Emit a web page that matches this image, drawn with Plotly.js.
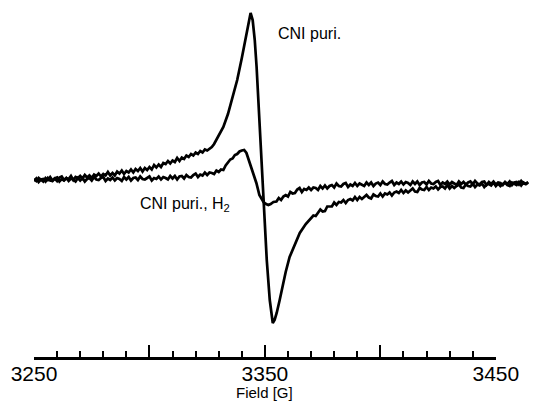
<!DOCTYPE html>
<html>
<head>
<meta charset="utf-8">
<script src="https://cdn.plot.ly/plotly-3.0.1.min.js"></script>
<style>html,body{margin:0;padding:0;background:#fff;}#chart{width:559px;height:416px;}</style>
</head>
<body>
<div id="chart"></div>
<script>
// Field values (G) and signal (arb. units)
var fieldPuri = [3250,3251,3252,3253,3254,3255,3256,3257,3258,3259,3260,3261,3262,3263,3264,3265,3266,3267,3268,3269,3270,3271,3272,3273,3274,3275,3276,3277,3278,3279,3280,3281,3282,3283,3284,3285,3286,3287,3288,3289,3290,3291,3292,3293,3294,3295,3296,3297,3298,3299,3300,3301,3302,3303,3304,3305,3306,3307,3308,3309,3310,3311,3312,3313,3314,3315,3316,3317,3318,3319,3320,3321,3322,3323,3324,3325,3326,3327,3328,3329,3330,3332,3334,3336,3338,3340,3341.5,3342.5,3343.8,3344.7,3345.6,3346.4,3347.3,3347.8,3348.6,3349.0,3349.5,3349.9,3350.8,3352.1,3353.4,3354.2,3355.1,3356.4,3357.3,3359.0,3360.7,3362.9,3365.1,3367.7,3370,3371,3372,3373,3374,3375,3376,3377,3378,3379,3380,3381,3382,3383,3384,3385,3386,3387,3388,3389,3390,3391,3392,3393,3394,3395,3396,3397,3398,3399,3400,3401,3402,3403,3404,3405,3406,3407,3408,3409,3410,3411,3412,3413,3414,3415,3416,3417,3418,3419,3420,3421,3422,3423,3424,3425,3426,3427,3428,3429,3430,3431,3432,3433,3434,3435,3436,3437,3438,3439,3440,3441,3442,3443,3444,3445,3446,3447,3448,3449,3450,3451,3452,3453,3454,3455,3456,3457,3458,3459,3460,3461,3462,3463,3464];
var signalPuri = [1,-1,2,0,-1.5,2,0,3,-0.5,1.5,-1,2.5,3.5,0,2,1,4,0,3,2,4,1.5,5,2.5,4.5,2,5.5,4,6.5,3.5,6,4.5,8,4.5,7,4.5,8.5,6.5,9.5,6,9,7.5,10.5,7.5,11,9,12,8.5,12,10,13,10.5,15,12.5,15.5,13,17,16,19,16.5,19.5,18,22,19,22.5,21,24.5,23,26,24.5,27.5,26,29,27.5,30.5,29.5,31,33,36,40,44,53,66,84,100,122,139,152,167,160,140,113,75,50,20,0,-20,-40,-80,-120,-143,-140,-133,-120,-110,-92,-77,-64,-53,-44,-38,-35.5,-36,-32.5,-29.5,-31.5,-31,-26.5,-26.5,-26.5,-22.5,-25,-22,-22.5,-20,-23,-20,-19,-20.5,-17,-20,-17,-19,-16.5,-15,-17.5,-18.5,-14.5,-16,-16.5,-13.5,-16.5,-13.5,-14.5,-12.5,-15.5,-12.5,-11.5,-13,-10,-13,-10.5,-12.5,-10.5,-8.5,-11.5,-12,-8,-9.5,-10,-7,-10,-7.5,-8.5,-6.5,-9.5,-7,-6.5,-8.5,-5,-8.5,-6,-8,-6,-4.5,-7.5,-8,-4.5,-6,-6.5,-3.5,-7,-4.5,-5.5,-3.5,-7,-4.5,-4,-5.5,-2.5,-6,-3.5,-6,-4,-2.5,-5,-6,-2.5,-4,-5,-2,-5.5,-2.5,-4,-2.5];

var fieldH2 = [3250,3251,3252,3253,3254,3255,3256,3257,3258,3259,3260,3261,3262,3263,3264,3265,3266,3267,3268,3269,3270,3271,3272,3273,3274,3275,3276,3277,3278,3279,3280,3281,3282,3283,3284,3285,3286,3287,3288,3289,3290,3291,3292,3293,3294,3295,3296,3297,3298,3299,3300,3301,3302,3303,3304,3305,3306,3307,3308,3309,3310,3311,3312,3313,3314,3315,3316,3317,3318,3319,3320,3321,3322,3323,3324,3325,3326,3327,3328,3329,3330,3331,3332,3333,3334,3335,3336,3337,3338,3339,3340,3341,3342,3343,3344,3345,3346.3,3347.6,3349.4,3350.5,3351.5,3352.5,3353.7,3355,3356,3357,3358,3359,3360,3361,3362,3363,3364,3365,3366,3367,3368,3369,3370,3371,3372,3373,3374,3375,3376,3377,3378,3379,3380,3381,3382,3383,3384,3385,3386,3387,3388,3389,3390,3391,3392,3393,3394,3395,3396,3397,3398,3399,3400,3401,3402,3403,3404,3405,3406,3407,3408,3409,3410,3411,3412,3413,3414,3415,3416,3417,3418,3419,3420,3421,3422,3423,3424,3425,3426,3427,3428,3429,3430,3431,3432,3433,3434,3435,3436,3437,3438,3439,3440,3441,3442,3443,3444,3445,3446,3447,3448,3449,3450,3451,3452,3453,3454,3455,3456,3457,3458,3459,3460,3461,3462,3463,3464];
var signalH2 = [-1,1.5,-2,0.5,1,-1.5,2,-0.5,-1,1.5,2.5,-1.5,1,-0.5,2,-1,1.5,0.5,-1.5,2,-0.5,2,-1.5,1,2,-0.5,3,0.5,0,2,3,-1,1.5,0,2.5,-0.5,2,1,-1,3,0.5,3,-0.5,2,2.5,0,3.5,1,0.5,2.5,3.5,-0.5,2,1,3.5,0.5,3,2,0.5,4,1.5,4,0.5,3.5,4,1.5,5,3,2.5,5,6.5,3,5.5,4.5,7.5,5,7.5,7,6,9.5,8,10.5,10,14.5,18,20.5,21.5,25,26,28.5,29.5,30,27,20,13,5,-3,-15,-22,-24,-25,-24,-22,-21.5,-18,-20,-16.5,-15,-16.5,-12,-13.5,-13,-9.5,-8,-12,-9,-10,-7.5,-10,-7.5,-8,-10,-6,-8.5,-5.5,-8.5,-6,-5,-7.5,-3.5,-6,-6.5,-4,-3,-7,-4.5,-6,-3,-6,-3.5,-4.5,-6,-2.5,-5,-2.5,-6,-3.5,-2.5,-5,-1.5,-4,-4.5,-2.5,-1,-5,-2.5,-4,-1.5,-4.5,-2,-3,-5,-1.5,-4,-1.5,-5,-2.5,-2,-4.5,-1,-3.5,-4,-2,-1,-5,-2.5,-4,-1.5,-4.5,-2,-3.5,-5,-1.5,-4,-2,-4.5,-2.5,-1.5,-4.5,-1,-3.5,-4.5,-2,-1.5,-5,-2,-4,-1.5,-4.5,-2.5,-3,-5,-2,-4,-1.5,-5,-2.5,-2,-4.5,-1,-3.5,-4,-2];

var labeledTicks = [3250,3350,3450];
var labeledText = ['3250','3350','3450'];
var unlabeledMajorTicks = [3300,3400];
var minorTicks = [3260,3270,3280,3290,3310,3320,3330,3340,3360,3370,3380,3390,3410,3420,3430,3440];
var axisRange = [3250,3450];
var dataRange = [3250,3470];

var labelPuri = 'CNI puri.';
var labelH2 = 'CNI puri., H<sub>2</sub>';
var xTitle = 'Field [G]';

var FONT = 'Liberation Sans, Arial, Helvetica, sans-serif';

var traces = [
  // empty helper trace so the scale axis (x2) gets drawn; it has no visible marks
  {x: axisRange, y: [null, null], xaxis: 'x2', yaxis: 'y', type: 'scatter', mode: 'lines', line: {width: 0}, hoverinfo: 'none'},
  {x: fieldPuri, y: signalPuri, xaxis: 'x', yaxis: 'y', type: 'scatter', mode: 'lines', line: {color: '#000', width: 2.7}, hoverinfo: 'none'},
  {x: fieldH2, y: signalH2, xaxis: 'x', yaxis: 'y', type: 'scatter', mode: 'lines', line: {color: '#000', width: 2.7}, hoverinfo: 'none'}
];

var axisFrac = (axisRange[1] - axisRange[0]) / (dataRange[1] - dataRange[0]);

var layout = {
  width: 559, height: 416,
  margin: {l: 34, r: 17, t: 5, b: 59},
  paper_bgcolor: '#fff', plot_bgcolor: 'rgba(0,0,0,0)',
  showlegend: false,
  font: {family: FONT, color: '#000'},
  xaxis: {
    domain: [0, 1], range: dataRange, anchor: 'y',
    showgrid: false, zeroline: false, showline: false, showticklabels: false,
    tickmode: 'array', tickvals: unlabeledMajorTicks,
    ticks: 'inside', ticklen: 12, tickwidth: 2, tickcolor: '#000',
    fixedrange: true
  },
  xaxis2: {
    domain: [0, axisFrac], range: axisRange, anchor: 'y',
    showgrid: false, zeroline: false,
    showline: true, linewidth: 3, linecolor: '#000',
    tickmode: 'array', tickvals: labeledTicks, ticktext: labeledText,
    ticks: 'inside', ticklen: 12, tickwidth: 2, tickcolor: '#000',
    ticklabelstandoff: -4,
    tickfont: {family: FONT, size: 21, color: '#000'},
    minor: {tickmode: 'array', tickvals: minorTicks, ticks: 'inside', ticklen: 6, tickwidth: 2, tickcolor: '#000'},
    fixedrange: true
  },
  yaxis: {range: [-177, 175], visible: false, fixedrange: true, anchor: 'x'},
  annotations: [
    {text: labelPuri, xref: 'x', yref: 'y', x: 3369.5, y: 147, xanchor: 'center', yanchor: 'middle', showarrow: false, font: {family: FONT, size: 16, color: '#000'}},
    {text: labelH2, xref: 'x', yref: 'y', x: 3294.9, y: -24, xanchor: 'left', yanchor: 'middle', showarrow: false, font: {family: FONT, size: 16, color: '#000'}},
    {text: xTitle, xref: 'x', yref: 'paper', x: 3350, y: -0.1, xanchor: 'center', yanchor: 'middle', showarrow: false, font: {family: FONT, size: 15, color: '#000'}}
  ]
};

Plotly.newPlot('chart', traces, layout, {displayModeBar: false, staticPlot: true});
</script>
</body>
</html>
